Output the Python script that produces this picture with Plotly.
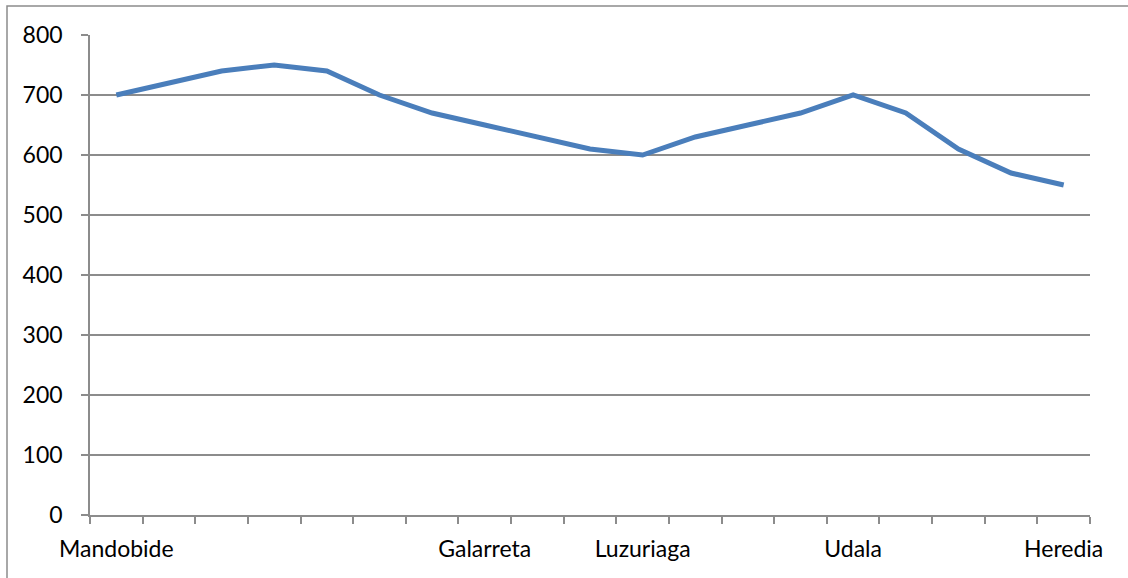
import plotly.graph_objects as go

labels = ["Mandobide", "", "", "", "", "", "", "Galarreta", "", "", "Luzuriaga",
          "", "", "", "Udala", "", "", "", "Heredia"]
values = [700, 720, 740, 750, 740, 700, 670, 650, 630, 610, 600,
          630, 650, 670, 700, 670, 610, 570, 550]
y_ticks = [0, 100, 200, 300, 400, 500, 600, 700, 800]

x = list(range(1, len(values) + 1))
tickvals = [i for i, l in zip(x, labels) if l]
ticktext = [l for l in labels if l]

GRID = "#8c8c8c"
FONT = "Lato"

fig = go.Figure()
fig.add_trace(go.Scatter(
    x=x, y=values, mode="lines",
    line=dict(color="#4a7ebb", width=5),
    showlegend=False, hoverinfo="skip",
))

fig.update_layout(
    width=1128, height=578,
    margin=dict(l=90, r=38, t=35, b=63),
    paper_bgcolor="white", plot_bgcolor="white",
    font=dict(family=FONT, size=23, color="black"),
    xaxis=dict(
        range=[0.5, len(values) + 0.5],
        tickmode="array", tickvals=tickvals, ticktext=ticktext,
        ticks="", showgrid=False, zeroline=False,
        showline=True, linecolor=GRID, linewidth=1.5,
        ticklabelstandoff=13,
        minor=dict(tick0=0.5, dtick=1, ticks="outside", ticklen=7,
                   tickcolor=GRID, tickwidth=1.5, showgrid=False),
        fixedrange=True,
    ),
    yaxis=dict(
        range=[0, 800],
        tickmode="array", tickvals=y_ticks,
        ticks="outside", ticklen=7, tickcolor=GRID, tickwidth=1.5,
        showgrid=True, gridcolor=GRID, gridwidth=1.5,
        zeroline=False,
        showline=True, linecolor=GRID, linewidth=1.5,
        ticklabelstandoff=14,
        fixedrange=True,
    ),
    shapes=[dict(
        type="rect", xref="paper", yref="paper",
        x0=(7 - 90) / 1000, x1=(1140 - 90) / 1000,
        y0=(515 - 590) / 480, y1=(515 - 6) / 480,
        line=dict(color=GRID, width=1.5), fillcolor="rgba(0,0,0,0)",
        layer="below",
    )],
)

fig.write_html("out.html", config={"displayModeBar": False},
               post_script="document.body.style.margin='0';")
